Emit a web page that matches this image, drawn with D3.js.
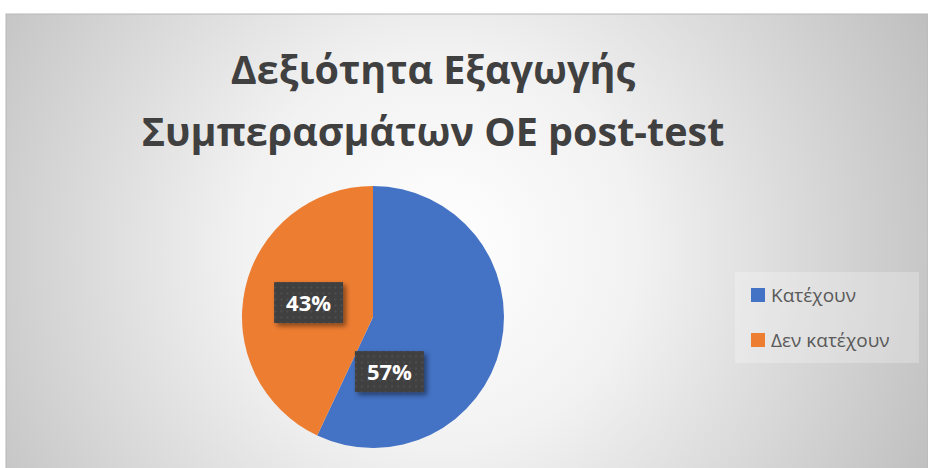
<!DOCTYPE html>
<html>
<head>
<meta charset="utf-8">
<script src="https://cdnjs.cloudflare.com/ajax/libs/d3/7.8.5/d3.min.js"></script>
<style>
  body { margin: 0; background: #fff; }
  svg { display: block; }
</style>
</head>
<body>
<script>
var titleLines = ["Δεξιότητα Εξαγωγής", "Συμπερασμάτων ΟΕ post-test"];
var categories = ["Κατέχουν", "Δεν κατέχουν"];
var values = [57, 43];
var colors = ["#4472C4", "#ED7D31"];

var width = 928, height = 468;
var frame = {x: 6, y: 14, w: 922, h: 470};

var svg = d3.select("body").append("svg")
    .attr("width", width)
    .attr("height", height);

var defs = svg.append("defs");

var grad = defs.append("radialGradient")
    .attr("id", "bg")
    .attr("gradientUnits", "userSpaceOnUse")
    .attr("cx", 440).attr("cy", 250).attr("r", 560);
grad.append("stop").attr("offset", "0%").attr("stop-color", "#ffffff");
grad.append("stop").attr("offset", "35%").attr("stop-color", "#f2f2f2");
grad.append("stop").attr("offset", "100%").attr("stop-color", "#bcbcbc");

var pat = defs.append("pattern")
    .attr("id", "dots")
    .attr("patternUnits", "userSpaceOnUse")
    .attr("width", 6).attr("height", 6);
pat.append("rect").attr("width", 6).attr("height", 6).attr("fill", "#3f3f3f");
pat.append("rect").attr("x", 2).attr("y", 2).attr("width", 1.5).attr("height", 1.5).attr("fill", "#5a5a5a");

var shadow = defs.append("filter").attr("id", "shadow")
    .attr("x", "-20%").attr("y", "-20%").attr("width", "150%").attr("height", "160%");
shadow.append("feDropShadow")
    .attr("dx", 3).attr("dy", 3).attr("stdDeviation", 2.5)
    .attr("flood-color", "#000").attr("flood-opacity", 0.45);

// background
svg.append("rect")
    .attr("x", frame.x).attr("y", frame.y)
    .attr("width", frame.w).attr("height", frame.h)
    .attr("fill", "url(#bg)")
    .attr("stroke", "#b8b8b8")
    .attr("stroke-width", 1);

// title
svg.append("text")
    .attr("text-anchor", "middle")
    .attr("font-family", "'Open Sans', sans-serif")
    .attr("font-weight", "bold")
    .attr("font-size", 39.5)
    .attr("fill", "#404040")
  .selectAll("tspan")
    .data(titleLines)
    .enter().append("tspan")
    .attr("x", 433)
    .attr("y", function(d, i) { return 84 + i * 62; })
    .text(function(d) { return d; });

// pie
var cx = 373, cy = 317, r = 131;
var pie = d3.pie().sort(null).value(function(d) { return d; });
var arc = d3.arc().innerRadius(0).outerRadius(r);
var arcs = pie(values);

var g = svg.append("g").attr("transform", "translate(" + cx + "," + cy + ")");

g.selectAll("path")
    .data(arcs)
    .enter().append("path")
    .attr("d", arc)
    .attr("fill", function(d, i) { return colors[i]; });

// label positions (angle in radians from top, distance from centre)
var labelAngle = [2.85, null];
var labelDist = [57, 66];
var total = d3.sum(values);

var labels = g.selectAll("g.lbl")
    .data(arcs)
    .enter().append("g")
    .attr("class", "lbl")
    .attr("transform", function(d, i) {
      var a = labelAngle[i] != null ? labelAngle[i] : (d.startAngle + d.endAngle) / 2;
      var x = Math.sin(a) * labelDist[i], y = -Math.cos(a) * labelDist[i];
      return "translate(" + x + "," + y + ")";
    });

labels.append("rect")
    .attr("x", -34.5).attr("y", -20.5)
    .attr("width", 69).attr("height", 41)
    .attr("fill", "url(#dots)")
    .attr("filter", "url(#shadow)");

labels.append("text")
    .attr("text-anchor", "middle")
    .attr("dy", "0.36em")
    .attr("font-family", "'Open Sans', sans-serif")
    .attr("font-weight", "bold")
    .attr("font-size", 22)
    .attr("fill", "#ffffff")
    .text(function(d) { return Math.round(d.data / total * 100) + "%"; });

// legend
var legend = svg.append("g");
legend.append("rect")
    .attr("x", 735).attr("y", 272)
    .attr("width", 184).attr("height", 91)
    .attr("fill", "#ffffff")
    .attr("opacity", 0.25);

var item = legend.selectAll("g.item")
    .data(categories)
    .enter().append("g")
    .attr("class", "item")
    .attr("transform", function(d, i) { return "translate(751," + (288 + i * 45) + ")"; });

item.append("rect")
    .attr("width", 14).attr("height", 14)
    .attr("fill", function(d, i) { return colors[i]; });

item.append("text")
    .attr("x", 20).attr("y", 7)
    .attr("dy", "0.36em")
    .attr("font-family", "'Open Sans', sans-serif")
    .attr("font-size", 19)
    .attr("fill", "#595959")
    .text(function(d) { return d; });
</script>
</body>
</html>
